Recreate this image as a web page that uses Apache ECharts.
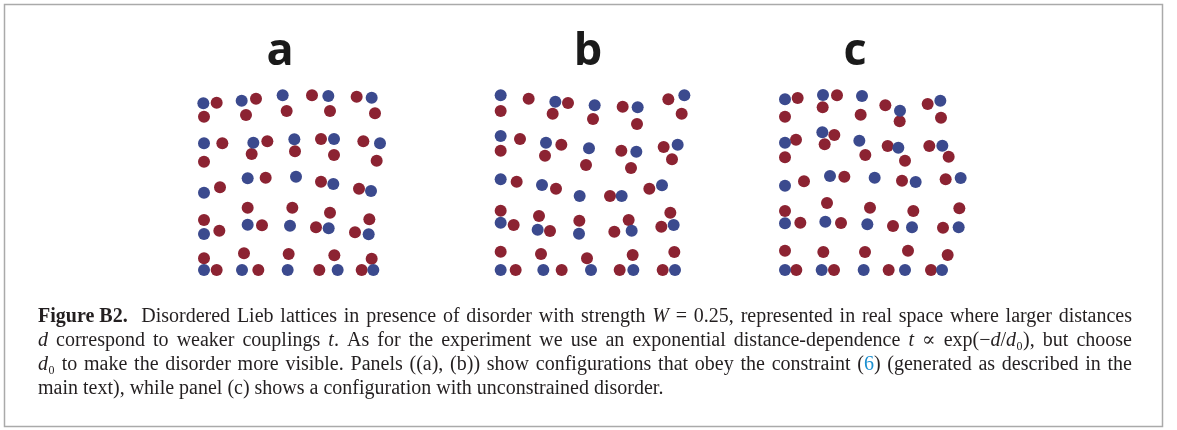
<!DOCTYPE html>
<html>
<head>
<meta charset="utf-8">
<script src="https://cdn.jsdelivr.net/npm/echarts@6/dist/echarts.min.js"></script>
<style>
  html, body { margin: 0; padding: 0; background: #fff; }
  #chart { width: 1177px; height: 430px; }
</style>
</head>
<body>
<div id="chart"></div>
<script>
// site positions (zoom pixel units, origin top-left of each panel)
const panelLabels = ['a', 'b', 'c']

const aBlue = [
  [40, 70], [155, 62], [278, 46], [415, 48], [545, 53],
  [42, 190], [190, 188], [313, 178], [432, 177], [570, 190],
  [42, 338], [173, 295], [318, 290], [430, 312], [543, 333],
  [42, 462], [173, 434], [300, 437], [416, 445], [536, 463],
  [42, 570], [156, 570], [293, 570], [443, 570], [550, 570]
]
const aRed = [
  [80, 68], [198, 56], [366, 46], [500, 50],
  [42, 110], [168, 105], [290, 93], [420, 93], [555, 100],
  [97, 190], [232, 184], [393, 177], [520, 184],
  [42, 245], [185, 222], [315, 214], [432, 225], [560, 242],
  [90, 322], [227, 293], [393, 305], [507, 326],
  [42, 420], [173, 383], [307, 383], [420, 398], [538, 418],
  [88, 452], [216, 436], [378, 442], [495, 457],
  [42, 535], [162, 520], [296, 522], [433, 526], [545, 536],
  [80, 570], [205, 570], [388, 570], [515, 570]
]

const bBlue = [
  [62, 46], [226, 65], [344, 76], [473, 82], [613, 46],
  [62, 168], [198, 188], [327, 205], [469, 215], [593, 194],
  [62, 298], [186, 315], [299, 348], [425, 348], [546, 316],
  [62, 428], [173, 449], [297, 461], [455, 452], [581, 435],
  [62, 570], [190, 570], [333, 570], [460, 570], [585, 570]
]
const bRed = [
  [146, 56], [264, 69], [428, 80], [565, 58],
  [62, 93], [218, 101], [339, 117], [471, 132], [605, 101],
  [120, 177], [244, 194], [424, 212], [551, 201],
  [62, 212], [195, 227], [318, 255], [453, 264], [576, 238],
  [110, 305], [228, 326], [390, 348], [508, 326],
  [62, 392], [177, 408], [298, 422], [446, 420], [571, 398],
  [101, 435], [210, 453], [403, 455], [544, 440],
  [62, 515], [183, 522], [321, 535], [458, 525], [583, 516],
  [107, 570], [245, 570], [419, 570], [548, 570]
]

const cBlue = [
  [45, 58], [159, 45], [276, 48], [390, 92], [511, 62],
  [45, 188], [157, 157], [268, 182], [385, 203], [517, 197],
  [45, 317], [180, 288], [314, 293], [437, 306], [572, 294],
  [45, 430], [166, 425], [292, 433], [426, 442], [566, 442],
  [45, 570], [155, 570], [281, 570], [405, 570], [516, 570]
]
const cRed = [
  [83, 54], [201, 46], [346, 76], [473, 72],
  [45, 110], [158, 82], [272, 104], [389, 124], [513, 113],
  [78, 179], [193, 165], [353, 198], [478, 198],
  [45, 232], [164, 193], [286, 225], [405, 242], [536, 230],
  [102, 304], [223, 290], [396, 302], [527, 298],
  [45, 393], [171, 369], [300, 383], [430, 393], [568, 385],
  [91, 428], [213, 429], [369, 438], [519, 443],
  [45, 512], [160, 516], [285, 516], [414, 512], [533, 525],
  [79, 570], [192, 570], [356, 570], [483, 570]
]

const captionLines = [
  '{b|Figure B2.}  Disordered Lieb lattices in presence of disorder with strength {i|W} = 0.25, represented in real space where larger distances',
  '{i|d} correspond to weaker couplings {i|t}. As for the experiment we use an exponential distance-dependence {i|t} ∝ exp(−{i|d}/{i|d}₀), but choose',
  '{i|d}₀ to make the disorder more visible. Panels ((a), (b)) show configurations that obey the constraint ({l|6}) (generated as described in the',
  'main text), while panel (c) shows a configuration with unconstrained disorder.'
]

const BLUE = '#3b4a8e'
const RED = '#8c2332'
const INK = '#231f20'
const SERIF = '"Liberation Serif", "DejaVu Serif", serif'
const CAP_SIZE = 20
const CAP_LEFT = 38
const CAP_RIGHT = 1132

// panel boxes on the page, and the axis extent in the same measuring units
const panels = [
  { left: 190, top: 80, width: 210, height: 205, xMax: 630, yMax: 615, labelX: 280, blue: aBlue, red: aRed },
  { left: 480, top: 80, width: 215, height: 205, xMax: 645, yMax: 615, labelX: 588, blue: bBlue, red: bRed },
  { left: 770, top: 80, width: 205, height: 205, xMax: 615, yMax: 615, labelX: 855, blue: cBlue, red: cRed }
]

const chart = echarts.init(document.getElementById('chart'))

const series = []
panels.forEach((p, i) => {
  series.push({
    type: 'scatter', xAxisIndex: i, yAxisIndex: i,
    symbolSize: 12, data: p.red,
    itemStyle: { color: RED, opacity: 1 }
  })
  series.push({
    type: 'scatter', xAxisIndex: i, yAxisIndex: i,
    symbolSize: 12, data: p.blue,
    itemStyle: { color: BLUE, opacity: 1 }
  })
})

// fonts for each rich token, also used to measure a line for justification
const fonts = {
  plain: CAP_SIZE + 'px ' + SERIF,
  b: 'bold ' + CAP_SIZE + 'px ' + SERIF,
  i: 'italic ' + CAP_SIZE + 'px ' + SERIF,
  l: CAP_SIZE + 'px ' + SERIF
}
const ctx = document.createElement('canvas').getContext('2d')
function measure(str, font) {
  ctx.font = font
  return ctx.measureText(str).width
}

// stretch the spaces of a line so that it fills CAP_LEFT..CAP_RIGHT
function justify(line) {
  const parts = []
  const re = /\{(\w)\|([^}]*)\}/g
  let last = 0, m
  while ((m = re.exec(line))) {
    if (m.index > last) parts.push({ k: 'plain', t: line.slice(last, m.index) })
    parts.push({ k: m[1], t: m[2] })
    last = re.lastIndex
  }
  if (last < line.length) parts.push({ k: 'plain', t: line.slice(last) })
  let natural = 0, gaps = 0
  parts.forEach(p => {
    natural += measure(p.t, fonts[p.k])
    if (p.k === 'plain') gaps += (p.t.match(/ /g) || []).length
  })
  const spaceW = measure(' ', fonts.plain)
  const extra = Math.max(0, (CAP_RIGHT - CAP_LEFT - natural) / gaps)
  const text = parts.map(p => p.k === 'plain'
    ? p.t.replace(/ /g, '{s| }')
    : '{' + p.k + '|' + p.t + '}').join('')
  return { text: text, spaceW: spaceW + extra }
}

function richFor(spaceW) {
  return {
    b: { fontWeight: 'bold', fontSize: CAP_SIZE, fontFamily: SERIF, fill: INK },
    i: { fontStyle: 'italic', fontSize: CAP_SIZE, fontFamily: SERIF, fill: INK },
    l: { fontSize: CAP_SIZE, fontFamily: SERIF, fill: '#1a8fd0' },
    s: { fontSize: CAP_SIZE, fontFamily: SERIF, fill: INK, width: spaceW }
  }
}

const graphic = [
  {
    type: 'rect', silent: true,
    shape: { x: 4.5, y: 4.5, width: 1158, height: 422 },
    style: { fill: 'none', stroke: '#aaaaaa', lineWidth: 1.5 }
  }
]
panels.forEach((p, i) => {
  graphic.push({
    type: 'text', silent: true,
    style: {
      text: panelLabels[i], x: p.labelX, y: 52,
      align: 'center', verticalAlign: 'middle',
      fontSize: 45, fontWeight: 'bold', fontFamily: '"Open Sans", sans-serif',
      fill: '#1a1a1a'
    }
  })
})
captionLines.forEach((line, i) => {
  const last = i === captionLines.length - 1
  const j = last ? { text: line, spaceW: measure(' ', fonts.plain) } : justify(line)
  graphic.push({
    type: 'text', silent: true,
    style: {
      text: j.text, x: CAP_LEFT, y: 317 + i * 24,
      verticalAlign: 'middle',
      fontSize: CAP_SIZE, fontFamily: SERIF, fill: INK,
      rich: richFor(j.spaceW)
    }
  })
})

chart.setOption({
  animation: false,
  grid: panels.map(p => ({ left: p.left, top: p.top, width: p.width, height: p.height })),
  xAxis: panels.map((p, i) => ({ gridIndex: i, type: 'value', min: 0, max: p.xMax, show: false })),
  yAxis: panels.map((p, i) => ({ gridIndex: i, type: 'value', min: 0, max: p.yMax, inverse: true, show: false })),
  series: series,
  graphic: graphic
})
</script>
</body>
</html>
